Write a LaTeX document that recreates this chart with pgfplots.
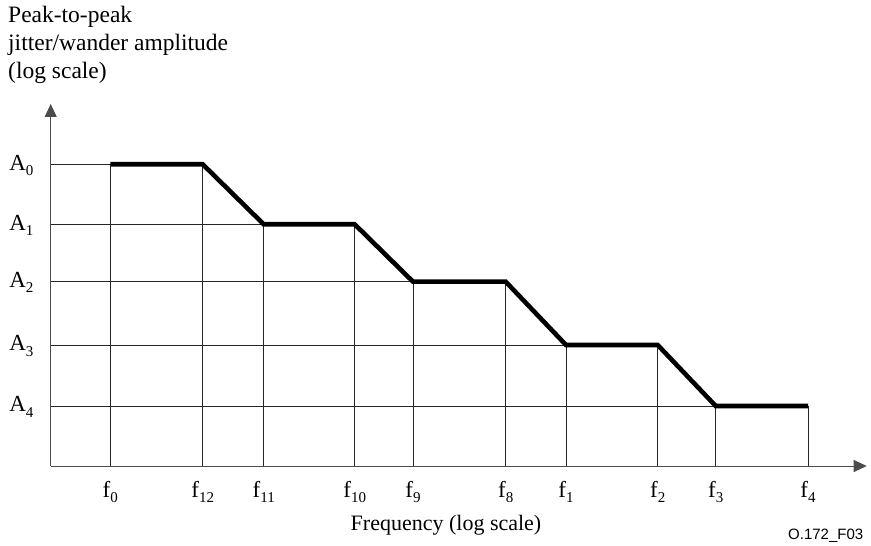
\documentclass[border=0pt]{standalone}
\usepackage{fontspec}
\setmainfont{Liberation Serif}
\newfontfamily\arialfont{Liberation Sans}
\usepackage{pgfplots}
\pgfplotsset{compat=1.18}
\usetikzlibrary{arrows.meta}
\newcommand{\sub}[1]{\raisebox{-0.22em}{\fontsize{15bp}{15bp}\selectfont #1}}
\begin{document}
\fontsize{23bp}{27bp}\selectfont
\begin{tikzpicture}
\begin{axis}[
  scale only axis, width=816bp, height=362bp,
  xmin=0, xmax=8.16, ymin=0, ymax=3.62,
  axis lines=left,
  axis line style={line width=1bp, draw=black!70},
  x axis line style={-{Triangle[length=13bp,width=12bp]}},
  y axis line style={-{Triangle[length=13bp,width=12bp]}},
  xtick={0.596,1.520,2.130,3.040,3.623,4.550,5.153,6.070,6.650,7.573},
  xticklabels={f\sub{0},f\sub{12},f\sub{11},f\sub{10},f\sub{9},f\sub{8},f\sub{1},f\sub{2},f\sub{3},f\sub{4}},
  ytick={0.600,1.210,1.843,2.417,3.017},
  yticklabels={A\sub{4},A\sub{3},A\sub{2},A\sub{1},A\sub{0}},
  major tick length=0pt,
  tick style={draw=none},
  xticklabel style={anchor=base, yshift=-31bp, inner sep=0pt, font=\fontsize{23bp}{27bp}\selectfont},
  yticklabel style={anchor=base east, xshift=-17bp, yshift=-6bp, inner sep=0pt, font=\fontsize{23bp}{27bp}\selectfont},
  clip=false,
]
% vertical grid lines (from x axis up to the curve)
\addplot[ycomb, draw=black!85, line width=0.9bp, mark=none] coordinates {
  (0.596,3.017) (1.520,3.017) (2.130,2.417) (3.040,2.417) (3.623,1.843)
  (4.550,1.843) (5.153,1.210) (6.070,1.210) (6.650,0.600) (7.573,0.600)
};
% horizontal grid lines (from y axis to the curve)
\addplot[xcomb, draw=black!85, line width=0.9bp, mark=none] coordinates {
  (0.596,3.017) (2.130,2.417) (3.623,1.843) (5.153,1.210) (6.650,0.600)
};
% mask curve
\addplot[black, line width=4.6bp, line join=miter, line cap=butt, mark=none] coordinates {
  (0.596,3.017) (1.520,3.017) (2.130,2.417) (3.040,2.417) (3.623,1.843)
  (4.550,1.843) (5.153,1.210) (6.070,1.210) (6.650,0.600) (7.573,0.600)
};
\begin{scope}[every node/.style={anchor=base west, inner sep=0pt, font=\fontsize{23.5bp}{27bp}\selectfont}]
\node at (axis cs:-0.427,4.43) {Peak-to-peak};
\node at (axis cs:-0.427,4.15) {jitter/wander amplitude};
\node at (axis cs:-0.427,3.87) {(log scale)};
\end{scope}
\node[anchor=base, inner sep=0pt, font=\fontsize{22bp}{26bp}\selectfont] at (axis cs:3.953,-0.64) {Frequency (log scale)};
\node[anchor=base west, inner sep=0pt, font=\arialfont\fontsize{15bp}{18bp}\selectfont] at (axis cs:7.373,-0.73) {O.172\_F03};
\path (axis cs:-0.507,-0.80) rectangle (axis cs:8.203,4.66);
\end{axis}
\end{tikzpicture}
\end{document}
